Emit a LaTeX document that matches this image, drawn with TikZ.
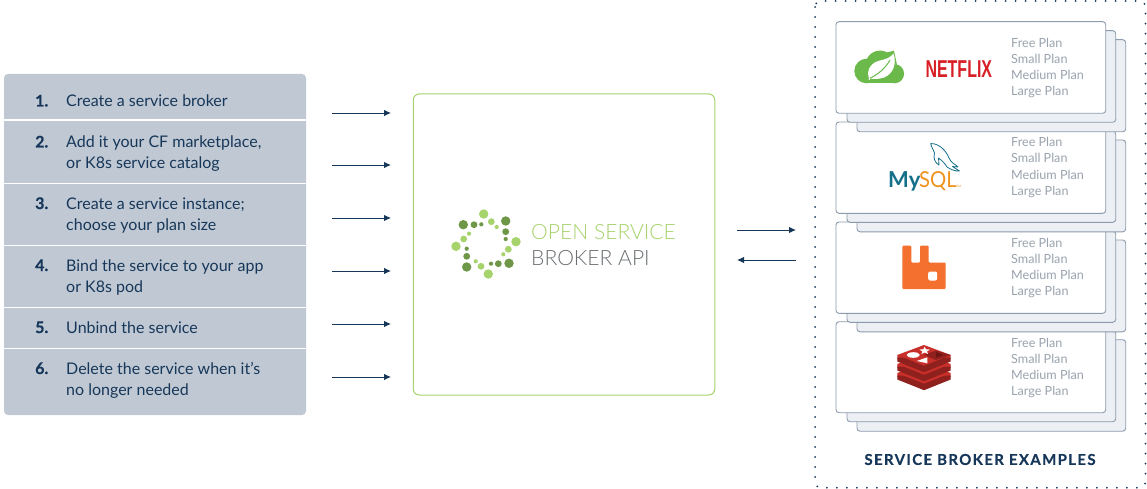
\documentclass[tikz,border=0pt]{standalone}
\usepackage{fontspec}
\usetikzlibrary{arrows.meta}
\setmainfont{Lato}
\newfontfamily\lightf{Lato Light}
\newfontfamily\trackf{Lato}[LetterSpace=9,FakeBold=0.3]
\newfontfamily\numf{Lato}[FakeBold=0.4]
\definecolor{navy}{HTML}{17375A}
\definecolor{panel}{HTML}{C0C9D3}
\definecolor{plan}{HTML}{9AA3AE}
\definecolor{edgec}{HTML}{8C9BAC}
\definecolor{layerc}{HTML}{ECEFF3}
\definecolor{oslight}{HTML}{A6D36C}
\definecolor{osdark}{HTML}{6F9748}
\definecolor{osgrey}{HTML}{6B6F72}
\definecolor{spring}{HTML}{6CB94B}
\definecolor{nfx}{HTML}{D81F26}
\definecolor{myteal}{HTML}{14708A}
\definecolor{myorange}{HTML}{F0931E}
\definecolor{rabbit}{HTML}{F4702E}
\definecolor{redisa}{HTML}{C92F2A}
\definecolor{redisb}{HTML}{8E201E}
\definecolor{redisc}{HTML}{6E1414}
\tikzset{
 stepnum/.style={anchor=base west,inner sep=0,text=navy,font=\numf\bfseries\fontsize{16}{16}\selectfont},
 steptxt/.style={anchor=base west,inner sep=0,text=navy,font=\fontsize{16}{22}\selectfont,align=left},
 plantxt/.style={anchor=base west,inner sep=0,text=plan,font=\fontsize{12.6}{12.6}\selectfont},
 flow/.style={draw=navy,line width=0.9pt,-{Latex[length=7pt,width=6.5pt]}},
 front/.style={draw=edgec,fill=white,line width=0.9pt,rounded corners=3pt},
 back/.style={draw=edgec,fill=layerc,line width=0.9pt,rounded corners=3pt},
 sep/.style={draw=white,line width=1.2pt},
 big/.style={radius=4.7pt},
 mid/.style={radius=3.4pt},
 small/.style={radius=2.1pt}
}
\newcommand{\cardstack}[2]{%
 \draw[back] (857,#1+18) rectangle (1125.7,#2+18.5);
 \draw[back] (847,#1+9) rectangle (1115.7,#2+9);
 \draw[front] (836,#1) rectangle (1105.7,#2);
}
\newcommand{\plans}[1]{%
 \node[plantxt] at (1011,#1) {Free Plan};
 \node[plantxt] at (1011,#1+16) {Small Plan};
 \node[plantxt] at (1011,#1+32) {Medium Plan};
 \node[plantxt] at (1011,#1+48) {Large Plan};
}
\newcommand{\redislayer}[1]{%
 \fill[redisa] (897.3,355+#1) -- (897.3,359+#1) -- (924,369.7+#1) -- (950.7,359+#1) -- (950.7,355+#1) -- cycle;
 \fill[redisb] (897.3,357.5+#1) -- (897.3,361.5+#1) -- (924,372.2+#1) -- (950.7,361.5+#1) -- (950.7,357.5+#1) -- cycle;
 \fill[redisa] (924,345+#1) -- (950.7,355+#1) -- (924,365.7+#1) -- (897.3,355+#1) -- cycle;
}
\begin{document}
\begin{tikzpicture}[x=1pt,y=-1pt]
\useasboundingbox (0,0) rectangle (1147,489);
\fill[white] (0,0) rectangle (1147,489);
% left panel
\node[fill=panel,rounded corners=4pt,minimum width=302pt,minimum height=341pt,inner sep=0,draw=none] (steps) at (155,244.5) {};
\foreach \yy in {120,183.3,245.3,307.3,348.3} \draw[sep] (4,\yy) -- (306,\yy);
\node[stepnum] (n1) at (35,106.5) {1.};
\node[steptxt] (t1) at (66,106.5) {Create a service broker};
\node[stepnum] (n2) at (35,147.5) {2.};
\node[steptxt] (t2) at (66,147.5) {Add it your CF marketplace,};
\node[steptxt] (t2b) at (66,168) {or K8s service catalog};
\node[stepnum] (n3) at (35,209) {3.};
\node[steptxt] (t3) at (66,209) {Create a service instance;};
\node[steptxt] (t3b) at (66,230) {choose your plan size};
\node[stepnum] (n4) at (35,271) {4.};
\node[steptxt] (t4) at (66,271) {Bind the service to your app};
\node[steptxt] (t4b) at (66,292) {or K8s pod};
\node[stepnum] (n5) at (35,333) {5.};
\node[steptxt] (t5) at (66,333) {Unbind the service};
\node[stepnum] (n6) at (35,374) {6.};
\node[steptxt] (t6) at (66,374) {Delete the service when it’s};
\node[steptxt] (t6b) at (66,395) {no longer needed};
% API box
\node[draw=oslight,line width=1pt,rounded corners=6pt,minimum width=301.5pt,minimum height=301pt,inner sep=0] (api) at (564,244.5) {};
% arrows
\foreach \yy [count=\i] in {113,165,218,271,324,377}{
 \coordinate (a\i) at (332,\yy);
 \coordinate (b\i) at (391,\yy);
 \draw[flow] (a\i) -- (b\i);
}
\coordinate (c1) at (737,230); \coordinate (d1) at (796,230);
\coordinate (c2) at (737,260); \coordinate (d2) at (796,260);
\draw[flow] (c1) -- (d1);
\draw[flow] (d2) -- (c2);
% OSB logo
\foreach \px/\py in {483.7/214,516/241.7,488.3/274,456/246.3}\fill[oslight] (\px,\py) circle[big];
\foreach \px/\py in {491.3/221.7,508.3/249.3,481/266.3,463.7/239}\fill[oslight] (\px,\py) circle[mid];
\foreach \px/\py in {496.7/227,503.3/254.3,475.7/261.3,469/233.7}\fill[oslight] (\px,\py) circle[small];
\foreach \px/\py in {505.7/221,509/263.3,466.7/267,463.3/224.7}\fill[osdark] (\px,\py) circle[big];
\foreach \px/\py in {505.7/231.7,498.3/263.7,466.7/256.3,474/224.7}\fill[osdark] (\px,\py) circle[mid];
\foreach \px/\py in {505.7/239,491/263.7,466.7/248.7,481.3/224.3}\fill[osdark] (\px,\py) circle[small];
\node[anchor=base west,inner sep=0,text=oslight,font=\lightf\fontsize{21.1}{21}\selectfont] (os1) at (531,239) {OPEN SERVICE};
\node[anchor=base west,inner sep=0,text=osgrey,font=\lightf\fontsize{21.1}{21}\selectfont] (os2) at (531,265) {BROKER API};
% dotted frame
\draw[navy,line width=2pt,line cap=round,dash pattern=on 0pt off 10pt,rounded corners=6pt] (815,1) rectangle (1145.5,487.7);
% cards
\cardstack{321.7}{412.7}
\cardstack{222}{313.3}
\cardstack{122}{213.3}
\cardstack{21.7}{113.3}
\plans{48}
\plans{147}
\plans{247}
\plans{347.5}
% spring logo
\fill[spring] (866.6,71) circle[radius=12.3pt];
\fill[spring] (880,65) circle[radius=14.4pt];
\fill[spring] (894.5,73.7) circle[radius=9.6pt];
\fill[spring] (866,72) rectangle (894,83.3);
\fill[spring] (881,54) -- (894,50.7) -- (897,65) -- cycle;
\fill[white] (869,78.5) .. controls (866,70) and (871,62.5) .. (880,60.5) .. controls (887,59) and (891,57) .. (893.5,53.5) .. controls (897,64) and (893,74) .. (884,77.5) .. controls (879,79.2) and (874,79.2) .. (869,78.5) -- cycle;
\draw[spring,line width=1pt] (869.5,78.5) .. controls (877,75) and (885,69) .. (890,60);
\fill[white] (869.3,79) circle[radius=1pt];
% netflix
\node[inner sep=0,text=nfx] (nf) at (958.8,68.7) {\scalebox{0.82}[1.25]{\fontspec{Liberation Sans}\bfseries\fontsize{19.5}{19}\selectfont NETFLIX}};
% mysql
\node[anchor=base west,inner sep=0,font=\fontsize{22}{22}\selectfont,text=myteal] (my) at (888,187) {\textbf{My}};
\node[anchor=base west,inner sep=0,font=\fontsize{22}{22}\selectfont,text=myorange] (sql) at (919,187) {\scalebox{0.92}[1]{SQL}};
\node[anchor=base west,inner sep=0,text=myorange,font=\fontsize{3}{3}\selectfont] (tm) at (956.5,187) {TM};
\draw[myteal,line width=0.8pt,line join=round] (930.7,143.6) .. controls (938,143) and (946,150) .. (949,158) .. controls (951,163) and (955,164) .. (958,167) -- (952.5,166.5) -- (959.5,171) .. controls (955,171.5) and (950,169) .. (947,167) .. controls (944,162) and (941,160) .. (938.5,158) -- (939,165) .. controls (935,163) and (933,158) .. (934.5,153) .. controls (933,149) and (931,146) .. (930.7,143.6) -- cycle;
% rabbitmq
\fill[rabbit,rounded corners=1pt] (902.3,245.7) -- (911.3,245.7) -- (911.3,262.7) -- (920,262.7) -- (920,245.7) -- (928.7,245.7) -- (928.7,262.7) -- (945.7,262.7) -- (945.7,289) -- (902.3,289) -- cycle;
\fill[white,rounded corners=2pt] (928.2,271.5) rectangle (937.2,280.5);
% redis
\redislayer{18}
\redislayer{9}
\redislayer{0}
\fill[redisb] (924,355) -- (936,350.5) -- (950.7,355) -- (936,360) -- cycle;
\fill[redisc] (936,352) -- (943.3,355) -- (936,357.5) -- cycle;
\fill[white] (913.3,355) ellipse[x radius=6.6pt,y radius=2.8pt];
\fill[white] (916.7,361) -- (927.3,357.3) -- (927.3,363.3) -- cycle;
\fill[white] (924.7,346.8) -- (926,349.2) -- (930,349.6) -- (927,351.4) -- (928,354) -- (924.7,352.5) -- (921.4,354) -- (922.4,351.4) -- (919.4,349.6) -- (923.4,349.2) -- cycle;
% title
\node[inner sep=0,text=navy,font=\trackf\bfseries\fontsize{15}{15}\selectfont] (title) at (980,459.5) {SERVICE BROKER EXAMPLES};
\end{tikzpicture}
\end{document}
